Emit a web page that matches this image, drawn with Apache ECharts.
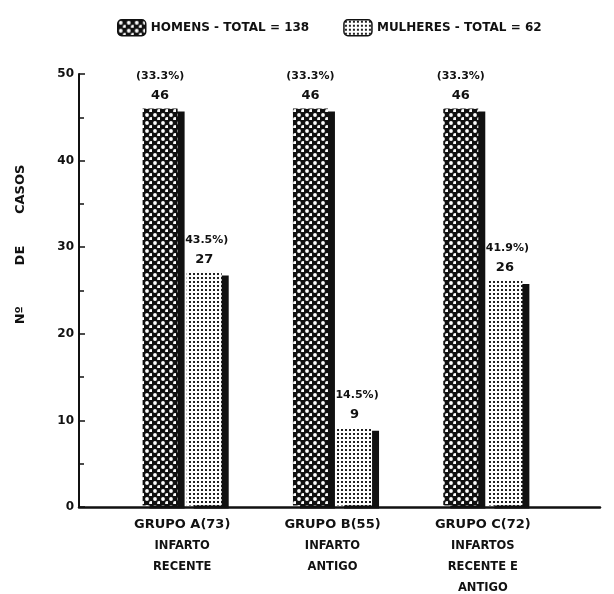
<!DOCTYPE html>
<html>
<head>
<meta charset="utf-8">
<script src="https://cdn.jsdelivr.net/npm/echarts@6/dist/echarts.min.js"></script>
<style>
  html, body { margin: 0; padding: 0; background: #fff; }
  #chart { width: 614px; height: 594px; }
</style>
</head>
<body>
<div id="chart"></div>
<script>
var grupos = ['GRUPO A(73)', 'GRUPO B(55)', 'GRUPO C(72)'];
var subtitulos = [['INFARTO', 'RECENTE'], ['INFARTO', 'ANTIGO'], ['INFARTOS', 'RECENTE E', 'ANTIGO']];
var homens = [46, 46, 46];
var mulheres = [27, 9, 26];
var pctHomens = ['33.3', '33.3', '33.3'];
var pctMulheres = ['43.5', '14.5', '41.9'];
var nomeHomens = 'HOMENS - TOTAL = 138';
var nomeMulheres = 'MULHERES - TOTAL = 62';
var yTicks = [0, 10, 20, 30, 40, 50];

var FONT = 'DejaVu Sans';

// hachura dos homens: fundo preto com pontos brancos em diagonal
function padraoHomens() {
	var c = document.createElement('canvas');
	c.width = 8; c.height = 8;
	var ctx = c.getContext('2d');
	ctx.fillStyle = '#111';
	ctx.fillRect(0, 0, 8, 8);
	ctx.fillStyle = '#fff';
	ctx.beginPath(); ctx.arc(3, 3, 1.9, 0, Math.PI * 2); ctx.fill();
	ctx.beginPath(); ctx.arc(7, 7, 1.9, 0, Math.PI * 2); ctx.fill();
	return c;
}

// pontilhado das mulheres: fundo branco com pontinhos pretos
function padraoMulheres() {
	var c = document.createElement('canvas');
	c.width = 4; c.height = 4;
	var ctx = c.getContext('2d');
	ctx.fillStyle = '#fff';
	ctx.fillRect(0, 0, 4, 4);
	ctx.fillStyle = '#222';
	ctx.fillRect(1, 1, 2, 2);
	return c;
}

function rotulo(pcts) {
	return function(p) {
		return '{p|(' + pcts[p.dataIndex] + '%)}\n{v|' + p.value + '}';
	};
}

var labelRich = {
	p: { fontFamily: FONT, fontWeight: 'bold', fontSize: 11, color: '#111', lineHeight: 21 },
	v: { fontFamily: FONT, fontWeight: 'bold', fontSize: 13, color: '#111', lineHeight: 18 }
};

var estiloBarra = {
	shadowColor: '#111',
	shadowBlur: 0,
	shadowOffsetX: 7,
	shadowOffsetY: 3
};

var myChart = echarts.init(document.getElementById('chart'));
var option = {
	animation: false,
	legend: {
		left: 112,
		top: 14,
		itemWidth: 28,
		itemHeight: 16,
		itemGap: 34,
		itemStyle: { borderColor: '#111', borderWidth: 1.5, shadowBlur: 0, shadowOffsetX: 0, shadowOffsetY: 0 },
		textStyle: { fontFamily: FONT, fontWeight: 'bold', fontSize: 12, color: '#111' },
		data: [nomeHomens, nomeMulheres]
	},
	grid: [
		{ left: 79, right: 14, top: 74, bottom: 87 },
		{ left: 107, right: 56, top: 74, bottom: 87 }
	],
	xAxis: [{
		gridIndex: 0,
		type: 'value',
		min: 0,
		max: 1,
		axisLine: { show: true, onZero: false, lineStyle: { color: '#111', width: 2.5 } },
		axisTick: { show: false },
		axisLabel: { show: false },
		splitLine: { show: false },
		z: 5
	}, {
		gridIndex: 1,
		type: 'category',
		data: grupos,
		axisLine: { show: false },
		axisTick: { show: false },
		axisLabel: {
			margin: 9,
			interval: 0,
			formatter: function(v, i) {
				return '{g|' + v + '}\n' + subtitulos[i].map(function(s) {
					return '{s|' + s + '}';
				}).join('\n');
			},
			rich: {
				g: { fontFamily: FONT, fontWeight: 'bold', fontSize: 13, color: '#111', lineHeight: 21 },
				s: { fontFamily: FONT, fontWeight: 'bold', fontSize: 11.5, color: '#111', lineHeight: 21 }
			}
		}
	}],
	yAxis: [{
		gridIndex: 0,
		type: 'value',
		min: yTicks[0],
		max: yTicks[yTicks.length - 1],
		interval: 10,
		name: 'Nº         DE       CASOS',
		nameLocation: 'middle',
		nameRotate: 90,
		nameGap: 52,
		nameTextStyle: {
			fontFamily: FONT, fontWeight: 'bold', fontSize: 13, color: '#111',
			padding: [0, 0, 0, 92]
		},
		axisLine: { show: true, lineStyle: { color: '#111', width: 2 } },
		axisTick: { show: true, inside: true, length: 6, lineStyle: { color: '#111', width: 1.5 } },
		minorTick: { show: true, splitNumber: 2, length: 5, lineStyle: { color: '#111', width: 1.5 } },
		axisLabel: { fontFamily: FONT, fontWeight: 'bold', fontSize: 12, color: '#111', margin: 5 },
		splitLine: { show: false }
	}, {
		gridIndex: 1,
		type: 'value',
		min: yTicks[0],
		max: yTicks[yTicks.length - 1],
		show: false
	}],
	series: [{
		name: nomeHomens,
		type: 'bar',
		xAxisIndex: 1,
		yAxisIndex: 1,
		barWidth: 35,
		barGap: '26%',
		data: homens,
		itemStyle: Object.assign({ color: { image: padraoHomens(), repeat: 'repeat' } }, estiloBarra),
		label: { show: true, position: 'top', distance: 4, formatter: rotulo(pctHomens), rich: labelRich },
		emphasis: { disabled: true }
	}, {
		name: nomeMulheres,
		type: 'bar',
		xAxisIndex: 1,
		yAxisIndex: 1,
		barWidth: 35,
		data: mulheres,
		itemStyle: Object.assign({ color: { image: padraoMulheres(), repeat: 'repeat' } }, estiloBarra),
		label: { show: true, position: 'top', distance: 4, formatter: rotulo(pctMulheres), rich: labelRich },
		emphasis: { disabled: true }
	}]
};
myChart.setOption(option);
</script>
</body>
</html>
